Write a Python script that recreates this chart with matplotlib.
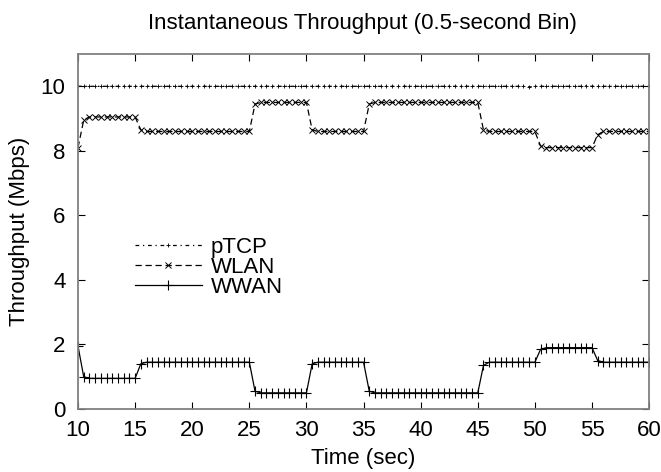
import matplotlib.pyplot as plt
import numpy as np

plt.rcParams['font.family'] = ['Liberation Sans', 'DejaVu Sans']

# time axis: one sample every 0.5 s from 10 to 60
time = np.arange(10, 60.5, 0.5)

ptcp = [10.0, 10.0, 10.0, 10.0, 10.0, 10.0, 10.0, 10.0, 10.0, 10.0, 10.0,
        10.0, 10.0, 10.0, 10.0, 10.0, 10.0, 10.0, 10.0, 10.0, 10.0, 10.0,
        10.0, 10.0, 10.0, 10.0, 10.0, 10.0, 10.0, 10.0, 10.0, 10.0, 10.0,
        10.0, 10.0, 10.0, 10.0, 10.0, 10.0, 10.0, 10.0, 10.0, 10.0, 10.0,
        10.0, 10.0, 10.0, 10.0, 10.0, 10.0, 10.0, 10.0, 10.0, 10.0, 10.0,
        10.0, 10.0, 10.0, 10.0, 10.0, 10.0, 10.0, 10.0, 10.0, 10.0, 10.0,
        10.0, 10.0, 10.0, 10.0, 10.0, 10.0, 10.0, 10.0, 10.0, 10.0, 10.0,
        10.0, 10.0, 9.98, 10.0, 10.0, 10.0, 10.0, 10.0, 10.0, 10.0, 10.0,
        10.0, 10.02, 10.0, 10.0, 10.0, 10.0, 10.0, 10.0, 10.0, 10.0, 10.0,
        10.0, 10.0]

wlan = [8.1, 8.95,
        9.05, 9.05, 9.05, 9.05, 9.05, 9.05, 9.05, 9.05, 9.05,
        8.65,
        8.6, 8.6, 8.6, 8.6, 8.6, 8.6, 8.6, 8.6, 8.6, 8.6,
        8.6, 8.6, 8.6, 8.6, 8.6, 8.6, 8.6, 8.6, 8.6,
        9.45,
        9.5, 9.5, 9.5, 9.5, 9.5, 9.5, 9.5, 9.5, 9.5,
        8.65,
        8.6, 8.6, 8.6, 8.6, 8.6, 8.6, 8.6, 8.6, 8.6,
        9.45,
        9.5, 9.5, 9.5, 9.5, 9.5, 9.5, 9.5, 9.5, 9.5, 9.5,
        9.5, 9.5, 9.5, 9.5, 9.5, 9.5, 9.5, 9.5, 9.5,
        8.65,
        8.6, 8.6, 8.6, 8.6, 8.6, 8.6, 8.6, 8.6, 8.6,
        8.15,
        8.1, 8.1, 8.1, 8.1, 8.1, 8.1, 8.1, 8.1, 8.1,
        8.5,
        8.6, 8.6, 8.6, 8.6, 8.6, 8.6, 8.6, 8.6, 8.6]

wwan = [1.95, 1.0,
        0.95, 0.95, 0.95, 0.95, 0.95, 0.95, 0.95, 0.95, 0.95,
        1.4,
        1.45, 1.45, 1.45, 1.45, 1.45, 1.45, 1.45, 1.45, 1.45, 1.45,
        1.45, 1.45, 1.45, 1.45, 1.45, 1.45, 1.45, 1.45, 1.45,
        0.55,
        0.5, 0.5, 0.5, 0.5, 0.5, 0.5, 0.5, 0.5, 0.5,
        1.4,
        1.45, 1.45, 1.45, 1.45, 1.45, 1.45, 1.45, 1.45, 1.45,
        0.55,
        0.5, 0.5, 0.5, 0.5, 0.5, 0.5, 0.5, 0.5, 0.5, 0.5,
        0.5, 0.5, 0.5, 0.5, 0.5, 0.5, 0.5, 0.5, 0.5,
        1.35,
        1.45, 1.45, 1.45, 1.45, 1.45, 1.45, 1.45, 1.45, 1.45,
        1.85,
        1.9, 1.9, 1.9, 1.9, 1.9, 1.9, 1.9, 1.9, 1.9,
        1.5,
        1.45, 1.45, 1.45, 1.45, 1.45, 1.45, 1.45, 1.45, 1.45]

xticks = [10, 15, 20, 25, 30, 35, 40, 45, 50, 55, 60]
yticks = [0, 2, 4, 6, 8, 10]

fig = plt.figure(figsize=(6.61, 4.72), dpi=100)
ax = fig.add_axes([0.118, 0.1335, 0.864, 0.752])

ax.plot(time, ptcp, color='black', lw=0.9, linestyle=(0, (3, 3, 1, 3)),
        marker='+', ms=3, mew=0.6, label='pTCP')
ax.plot(time, wlan, color='black', lw=0.9, linestyle=(0, (5, 3)),
        marker='x', ms=5, mew=0.7, label='WLAN')
ax.plot(time, wwan, color='black', lw=0.9, linestyle='-',
        marker='+', ms=7, mew=0.8, label='WWAN')

ax.set_xlim(10, 60)
ax.set_ylim(0, 11)
ax.set_xticks(xticks)
ax.set_yticks(yticks)
ax.tick_params(direction='in', length=5, width=0.8, top=True, right=True,
               labelsize=16, colors='black')
ax.tick_params(axis='x', pad=8)
ax.tick_params(axis='y', pad=9)
for s in ax.spines.values():
    s.set_color('#808080')
    s.set_linewidth(1.3)

ax.set_xlabel('Time (sec)', fontsize=16, labelpad=5)
ax.set_ylabel('Throughput (Mbps)', fontsize=16, labelpad=8)
fig.text(0.549, 0.950, 'Instantaneous Throughput (0.5-second Bin)',
         ha='center', va='center', fontsize=16)

ax.legend(loc='upper left', bbox_to_anchor=(0.1, 0.484), frameon=False,
          fontsize=16, handlelength=3.0, numpoints=1, labelspacing=-0.05,
          handletextpad=0.4, borderpad=0, borderaxespad=0)

fig.savefig('out.png', dpi=100)
